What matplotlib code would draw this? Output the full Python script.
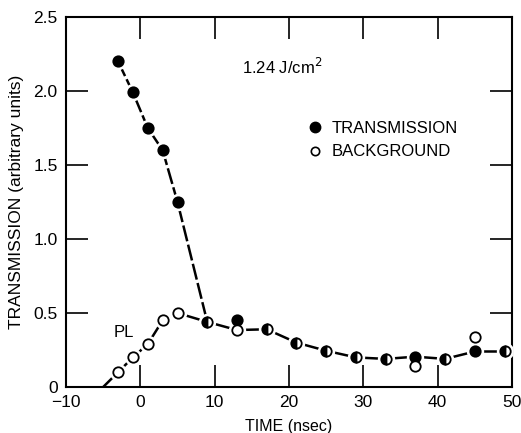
import matplotlib
matplotlib.use("Agg")
import matplotlib.pyplot as plt
from matplotlib.lines import Line2D

plt.rcParams['font.family'] = ['Liberation Sans', 'DejaVu Sans']

# ---- data ----
# points where only one series is visible separately
trans_time = [-3, -1, 1, 3, 5, 13, 37, 45]
trans_val = [2.20, 1.99, 1.75, 1.60, 1.25, 0.45, 0.205, 0.24]
bg_time = [-3, -1, 1, 3, 5, 13, 37, 45]
bg_val = [0.10, 0.20, 0.29, 0.45, 0.50, 0.385, 0.145, 0.34]
# points where transmission and background coincide (half-filled symbols)
both_time = [9, 17, 21, 25, 29, 33, 41, 49]
both_val = [0.44, 0.39, 0.30, 0.245, 0.20, 0.19, 0.19, 0.24]

# guide curves
trans_curve_x = [-3, -1, 1, 3, 5, 9]
trans_curve_y = [2.20, 1.99, 1.75, 1.60, 1.25, 0.44]
pl_curve_x = [-5.0, -3, -1, 1, 3, 5, 9]
pl_curve_y = [0.0, 0.10, 0.20, 0.29, 0.45, 0.50, 0.44]
tail_curve_x = [9, 13, 17, 21, 25, 29, 33, 37, 41, 45, 49]
tail_curve_y = [0.44, 0.385, 0.39, 0.30, 0.245, 0.20, 0.19, 0.205, 0.19, 0.24, 0.24]

x_ticks = [-10, 0, 10, 20, 30, 40, 50]
x_ticklabels = ['\u221210', '0', '10', '20', '30', '40', '50']
y_ticks = [0, 0.5, 1.0, 1.5, 2.0, 2.5]
y_ticklabels = ['0', '0.5', '1.0', '1.5', '2.0', '2.5']

fig = plt.figure(figsize=(5.21, 4.33), dpi=100)
ax = fig.add_axes([0.1267, 0.1062, 0.856, 0.8545])

lw = 1.8
ms = 7.5
halo = ms + 4

# lines
ax.plot(trans_curve_x, trans_curve_y, color='black', lw=lw,
        linestyle=(0, (6.5, 1.4)), zorder=2)
ax.plot(pl_curve_x, pl_curve_y, color='black', lw=lw, zorder=2)
ax.plot(tail_curve_x, tail_curve_y, color='black', lw=lw, zorder=2)

# white halos around markers
for xs, ys in [(trans_time, trans_val), (bg_time, bg_val), (both_time, both_val)]:
    ax.plot(xs, ys, 'o', ms=halo, color='white', mec='white', zorder=3)

ax.plot(trans_time, trans_val, 'o', ms=ms, color='black', mec='black',
        mew=1.3, zorder=4)
ax.plot(bg_time, bg_val, 'o', ms=ms, mfc='white', mec='black',
        mew=1.3, zorder=4)
ax.plot(both_time, both_val, 'o', ms=ms, fillstyle='left', mfc='black',
        markerfacecoloralt='white', mec='black', mew=1.3, zorder=4)

ax.set_xlim(-10, 50)
ax.set_ylim(0, 2.5)
ax.set_xticks(x_ticks)
ax.set_xticklabels(x_ticklabels)
ax.set_yticks(y_ticks)
ax.set_yticklabels(y_ticklabels)
ax.tick_params(direction='in', length=16, width=1.2, labelsize=12.5,
               top=True, right=True, pad=6)
for s in ax.spines.values():
    s.set_linewidth(1.5)

ax.set_xlabel('TIME (nsec)', fontsize=11.5, labelpad=6)
ax.set_ylabel('TRANSMISSION (arbitrary units)', fontsize=12.5, labelpad=7)

ax.text(13.7, 2.16, '1.24 J/cm$^2$', fontsize=12, va='center', ha='left')
ax.text(-3.6, 0.365, 'PL', fontsize=12, va='center', ha='left')

handles = [
    Line2D([], [], marker='o', ls='none', ms=ms, color='black', mec='black'),
    Line2D([], [], marker='o', ls='none', ms=ms - 1.5, mfc='white', mec='black', mew=1.2),
]
ax.legend(handles, ['TRANSMISSION', 'BACKGROUND'], loc='upper left',
          bbox_to_anchor=(0.5245, 0.738), frameon=False, fontsize=12,
          handlelength=1.0, handletextpad=0.5, labelspacing=0.53,
          borderaxespad=0)

fig.savefig('out.png', dpi=100)
